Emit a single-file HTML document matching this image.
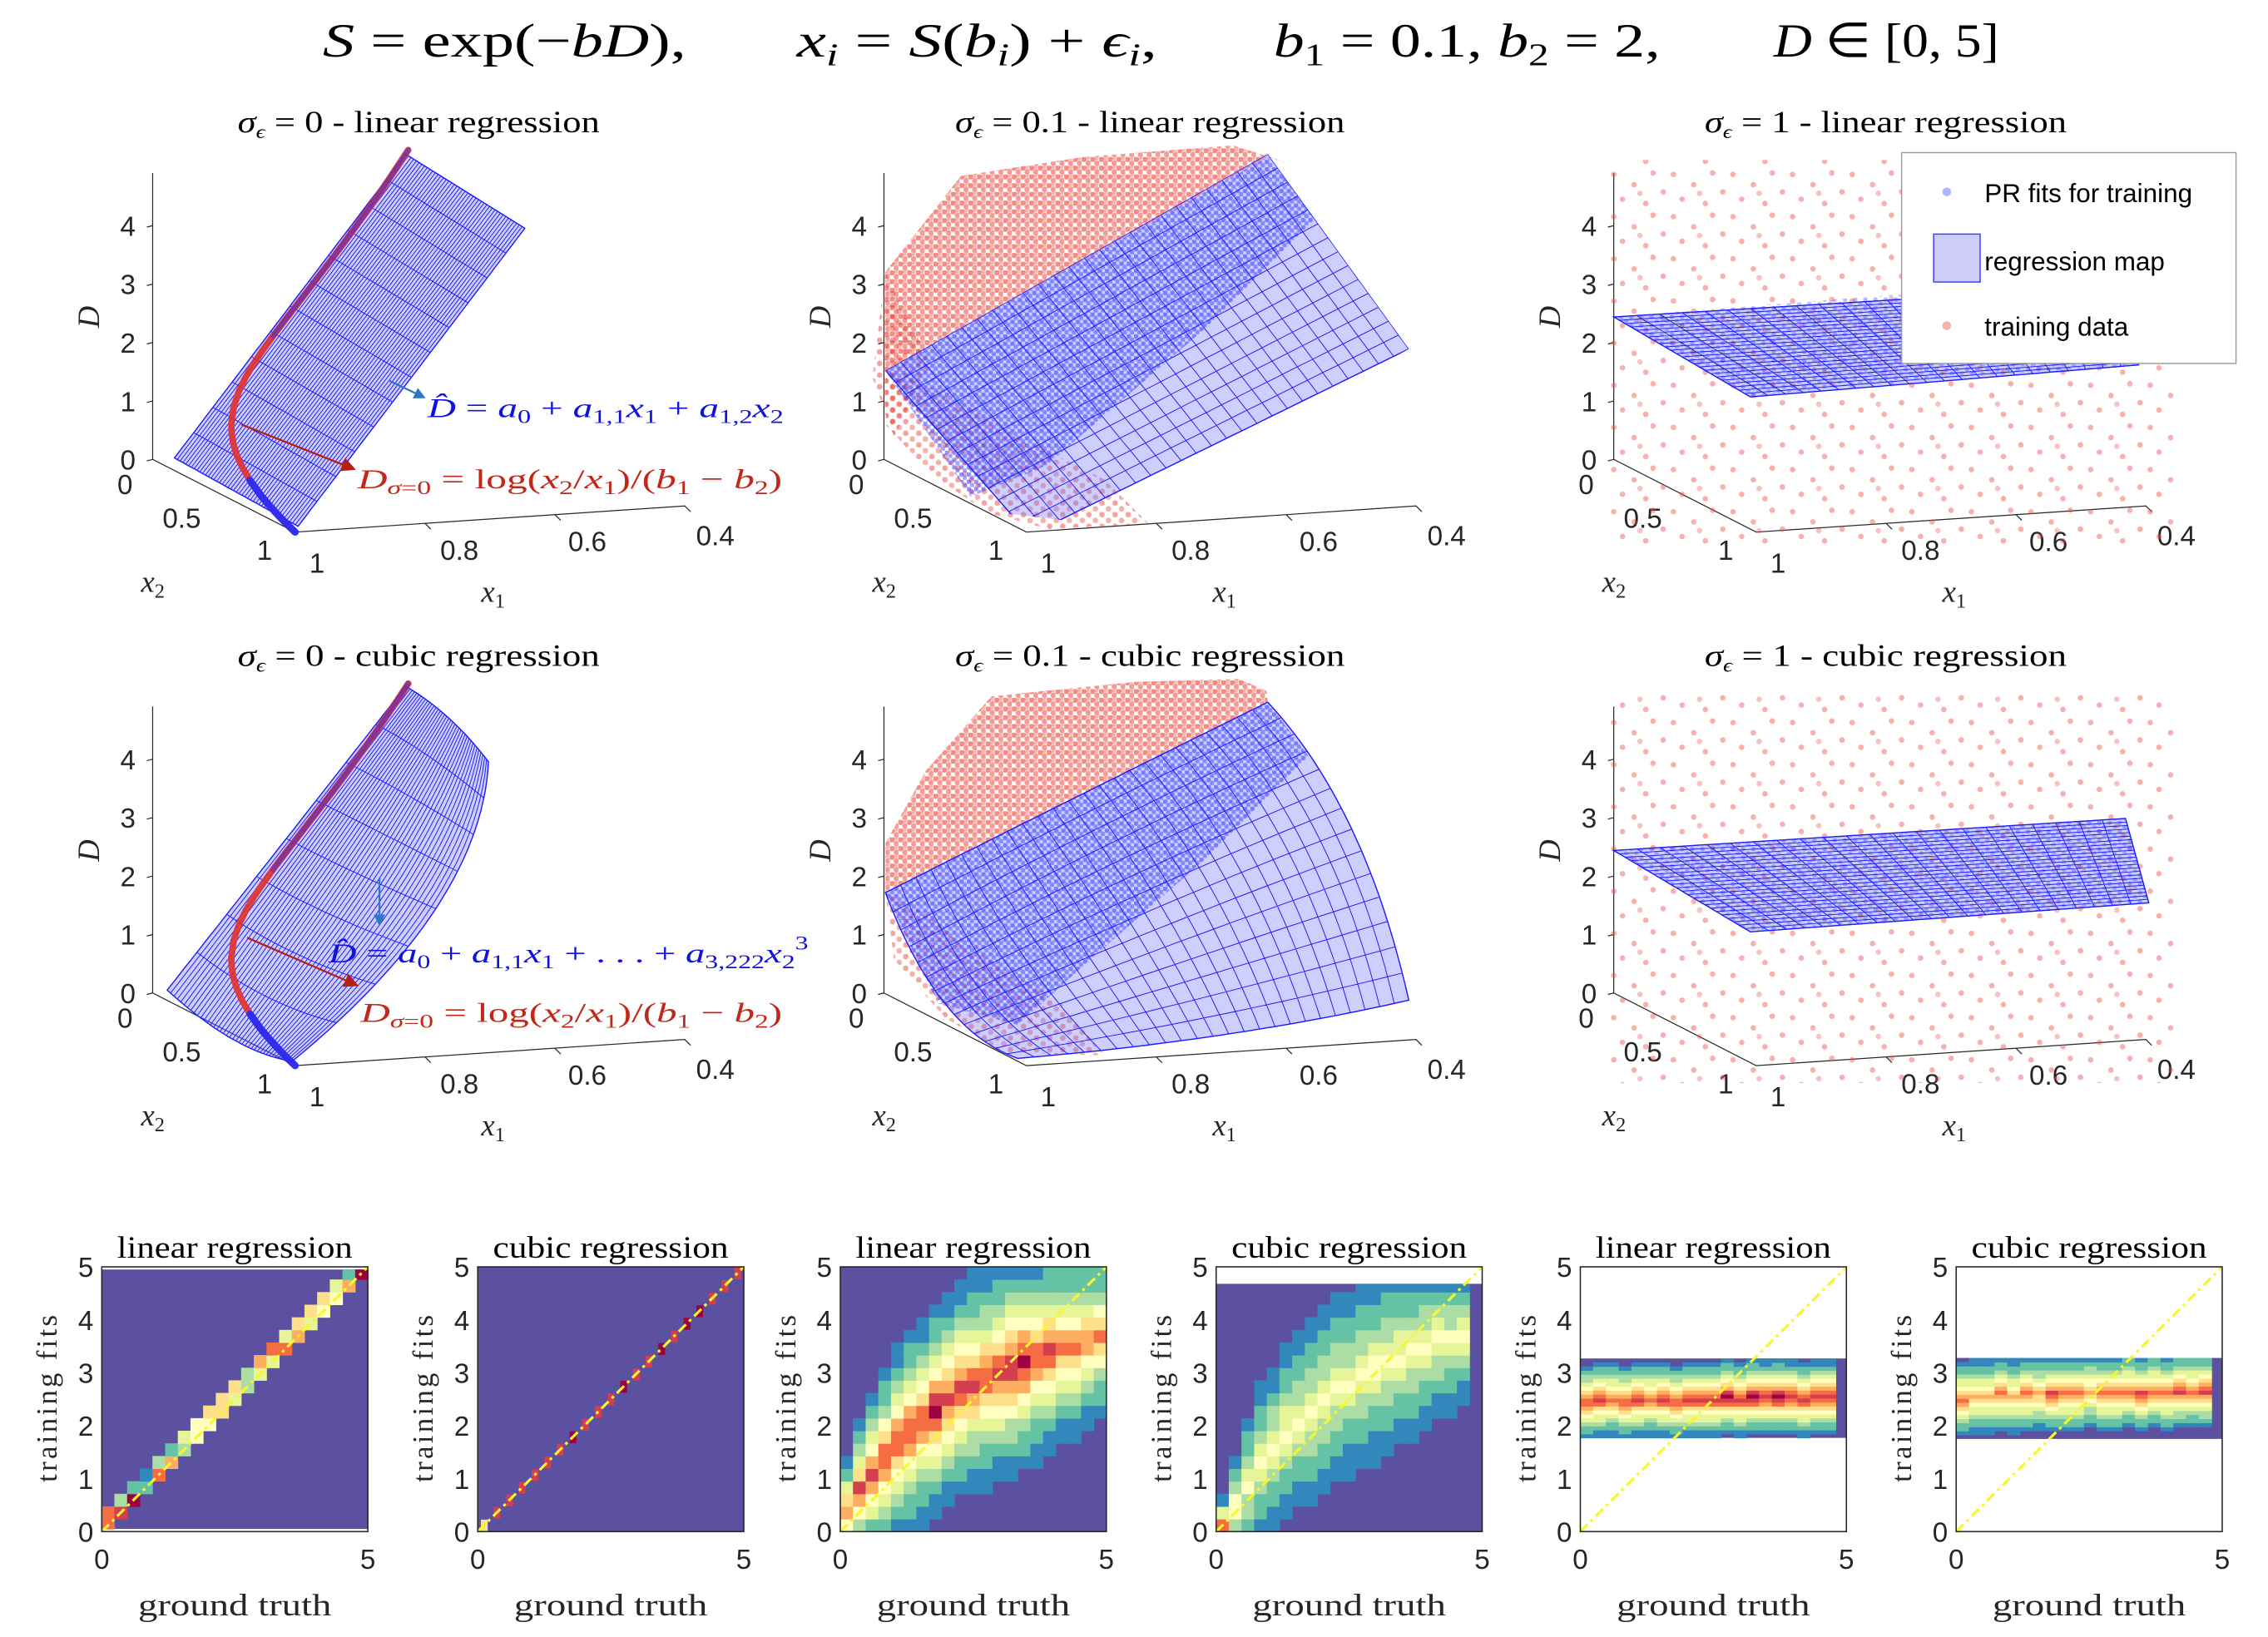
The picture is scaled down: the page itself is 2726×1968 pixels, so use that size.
<!DOCTYPE html>
<html><head><meta charset="utf-8"><title>Regression maps</title>
<style>
html,body{margin:0;padding:0;background:#fff;}
svg{display:block;}
.serif{font-family:"Liberation Serif",serif;}
.sans{font-family:"Liberation Sans",sans-serif;}
</style></head>
<body>
<svg id="fig" xmlns="http://www.w3.org/2000/svg" width="2726" height="1968" viewBox="0 0 1560 1126" preserveAspectRatio="none">
<defs>
<pattern id="redDense" width="6" height="6" patternUnits="userSpaceOnUse">
<circle cx="1.5" cy="1.5" r="2" fill="rgba(232,45,35,0.55)"/><circle cx="4.6" cy="4.3" r="2" fill="rgba(232,45,35,0.48)"/><circle cx="4.5" cy="1" r="1.2" fill="rgba(232,45,35,0.35)"/></pattern>
<pattern id="redMed" width="9" height="8" patternUnits="userSpaceOnUse">
<circle cx="2" cy="2" r="1.9" fill="rgba(232,50,40,0.45)"/><circle cx="6.5" cy="6" r="1.9" fill="rgba(232,50,40,0.38)"/></pattern>
<pattern id="redSparse" width="41" height="29" patternUnits="userSpaceOnUse">
<circle cx="3" cy="4" r="1.9" fill="rgba(235,80,75,0.45)"/><circle cx="17" cy="11" r="1.9" fill="rgba(235,80,75,0.45)"/><circle cx="30" cy="3" r="1.9" fill="rgba(235,80,75,0.45)"/><circle cx="9" cy="21" r="1.9" fill="rgba(235,80,75,0.45)"/><circle cx="25" cy="24" r="1.9" fill="rgba(235,80,75,0.45)"/><circle cx="37" cy="16" r="1.9" fill="rgba(235,80,75,0.45)"/><circle cx="21" cy="17" r="1.9" fill="rgba(235,80,75,0.35)"/></pattern>
<pattern id="blueDense" width="5" height="5" patternUnits="userSpaceOnUse">
<circle cx="1.3" cy="1.3" r="1.7" fill="rgba(30,40,255,0.5)"/><circle cx="3.8" cy="3.7" r="1.7" fill="rgba(30,40,255,0.42)"/></pattern>
<pattern id="blueMed" width="7" height="6" patternUnits="userSpaceOnUse">
<circle cx="2" cy="2" r="1.6" fill="rgba(60,70,255,0.38)"/><circle cx="5.5" cy="5" r="1.6" fill="rgba(60,70,255,0.32)"/></pattern>
<marker id="arrB" markerWidth="8" markerHeight="8" refX="6" refY="4" orient="auto" markerUnits="userSpaceOnUse"><path d="M0,0 L8,4 L0,8 z" fill="#2f78c4"/></marker>
<marker id="arrR" markerWidth="10" markerHeight="10" refX="7" refY="5" orient="auto" markerUnits="userSpaceOnUse"><path d="M0,0 L10,5 L0,10 z" fill="#b5200f"/></marker>
</defs>

<g class="serif" font-size="33" fill="#000">
<text x="222" y="39" textLength="250" lengthAdjust="spacingAndGlyphs"><tspan font-style="italic">S</tspan> = exp(−<tspan font-style="italic">bD</tspan>),</text>
<text x="548" y="39" textLength="248" lengthAdjust="spacingAndGlyphs"><tspan font-style="italic">x</tspan><tspan font-size="22" dy="6" font-style="italic">i</tspan><tspan dy="-6"> = </tspan><tspan font-style="italic">S</tspan>(<tspan font-style="italic">b</tspan><tspan font-size="22" dy="6" font-style="italic">i</tspan><tspan dy="-6">) + </tspan><tspan font-style="italic">ϵ</tspan><tspan font-size="22" dy="6" font-style="italic">i</tspan><tspan dy="-6">,</tspan></text>
<text x="876" y="39" textLength="266" lengthAdjust="spacingAndGlyphs"><tspan font-style="italic">b</tspan><tspan font-size="22" dy="6">1</tspan><tspan dy="-6"> = 0.1, </tspan><tspan font-style="italic">b</tspan><tspan font-size="22" dy="6">2</tspan><tspan dy="-6"> = 2,</tspan></text>
<text x="1220" y="39" textLength="155" lengthAdjust="spacingAndGlyphs"><tspan font-style="italic">D</tspan> ∈ [0, 5]</text>
</g>

<g id="panels3d"></g>
<g id="heatmaps"></g>

<g id="legend" class="sans">
<rect x="1308" y="105" width="230" height="145" fill="#fff" stroke="#9a9a9a" stroke-width="0.8"/>
<circle cx="1339" cy="132" r="3" fill="rgba(80,90,255,0.45)"/>
<text x="1365" y="139" font-size="18" fill="#000">PR fits for training</text>
<rect x="1330" y="161" width="32" height="33" fill="#cdcdf7" stroke="#3434ff" stroke-width="0.8"/>
<text x="1365" y="186" font-size="18" fill="#000">regression map</text>
<circle cx="1339" cy="224" r="3" fill="rgba(235,80,75,0.45)"/>
<text x="1365" y="231" font-size="18" fill="#000">training data</text>
</g>
</svg>

<script>
const b1 = 0.1, b2 = 2;
const curveD = [0,0.05,0.1,0.15,0.2,0.3,0.4,0.5,0.6,0.7,0.8,1,1.2,1.4,1.6,1.8,2,2.25,2.5,2.75,3,3.25,3.5,3.75,4,4.25,4.5,4.75,5];
const dTicks = [0,1,2,3,4];
const x2Ticks = ['0','0.5','1'];
const x1Ticks = ['1','0.8','0.6','0.4'];
const panelTitles3d = [['0','linear'],['0.1','linear'],['1','linear'],['0','cubic'],['0.1','cubic'],['1','cubic']];

const heatTitles = ['linear regression','cubic regression','linear regression','cubic regression','linear regression','cubic regression'];
const heatYLo = [0.05,0,0,0,1.77,1.75];
const heatYHi = [4.95,5,5,4.68,3.27,3.28];
const h1Lower = [8,9,10,2,8,7,3,5,5,6,4,3,4,4,8,7,4,5,5,7,10];
const h1Upper = [8,3,2,1,3,2,4,5,6,6,6,3,7,8,4,6,6,6,4,2,0];
const h2Vals = [6,9,9,9,9,9,9,10,9,9,9,10,9,9,10,9,10,10,9,9,9];
const h3Center = [0.4,0.8,1.1,1.4,1.7,1.9,2.1,2.3,2.5,2.7,2.8,2.9,3.0,3.1,3.2,3.3,3.4,3.5,3.5,3.6,3.7];
const h3Spread = [1.0,1.3,1.6,1.8,1.9,2.0,2.0,2.1,2.1,2.1,2.1,2.1,2.1,2.1,2.1,2.0,2.0,1.9,1.8,1.7,1.6];
const h3Peak = [8,9,9,9,9,9,9,10,9,9,9,9,9,10,10,9,9,8,8,8,8];
const h4Center = [0.1,0.5,0.9,1.3,1.6,1.9,2.1,2.3,2.5,2.7,2.8,3.0,3.1,3.2,3.3,3.4,3.5,3.6,3.6,3.7,3.8];
const h4Spread = [0.6,1.0,1.3,1.5,1.6,1.7,1.7,1.8,1.8,1.8,1.8,1.8,1.8,1.8,1.7,1.7,1.6,1.5,1.4,1.3,1.2];
const h4Peak = [8,6,5,5,5,5,5,5,5,5,5,5,5,5,5,5,5,5,5,5,0];
const h5Center = [2.45,2.5,2.5,2.45,2.5,2.5,2.5,2.45,2.5,2.5,2.5,2.55,2.5,2.55,2.55,2.55,2.55,2.5,2.55,2.55];
const h5Peak = [9,9,8,9,9,8,9,9,9,9,9,10,9,10,9,10,9,9,9,9];
const h6Center = [2.5,2.55,2.55,2.6,2.55,2.6,2.6,2.6,2.6,2.6,2.65,2.6,2.6,2.65,2.6,2.65,2.6,2.65,2.65,2.65];
const h6Peak = [8,7,7,8,7,8,7,9,8,8,7,8,8,8,9,8,8,9,8,9];
const h56Spread = [0.7,0.7];
const xTicksH = [0,5];
const yTicksH = [0,1,2,3,4,5];

const CMAP = ['#5b51a0','#3288bd','#66c2a5','#abdda4','#e6f598','#ffffbf','#fee08b','#fdae61','#f46d43','#d53e4f','#9e0142'];
const NS = 'http://www.w3.org/2000/svg';
function mk(tag, parent, attrs){const e=document.createElementNS(NS,tag);for(const k in attrs)e.setAttribute(k,attrs[k]);parent.appendChild(e);return e;}

const g3 = document.getElementById('panels3d');
const origins = [[105,316],[608,316],[1110,316],[105,683],[608,683],[1110,683]];
function proj(o,x1,x2,D){return [o[0]+(1-x1)*446.7+x2*98, o[1]-(1-x1)*30+x2*50-D*40.2];}

function qb(t){return [(1-t)*(1-t),2*t*(1-t),t*t];}
function patchPt(c,u,v){const bu=qb(u),bv=qb(v);let x=0,y=0;for(let i=0;i<3;i++)for(let j=0;j<3;j++){x+=bu[i]*bv[j]*c[i][j][0];y+=bu[i]*bv[j]*c[i][j][1];}return [x,y];}
function mid(a,b){return [(a[0]+b[0])/2,(a[1]+b[1])/2];}
function bilin(P00,P10,P01,P11){const m0=mid(P00,P01),m1=mid(P10,P11);return [[P00,m0,P01],[mid(P00,P10),mid(m0,m1),mid(P01,P11)],[P10,m1,P11]];}
function outline(c){const pts=[],n=30;for(let k=0;k<=n;k++)pts.push(patchPt(c,k/n,0));for(let k=0;k<=n;k++)pts.push(patchPt(c,1,k/n));for(let k=n;k>=0;k--)pts.push(patchPt(c,k/n,1));for(let k=n;k>=0;k--)pts.push(patchPt(c,0,k/n));return pts.map(p=>p[0].toFixed(1)+','+p[1].toFixed(1)).join(' ');}

const surfaces = [
  {c:bilin([120,315],[279,106],[205,362],[361,157]), nFixV:44, nFixU:12},
  {c:bilin([609,255],[872,106],[708,368],[969,240]), nFixV:14, nFixU:25, clip:'609,255 872,106 969,240 758,361 674,351'},
  {c:bilin([1110,218],[1455,197],[1204,273],[1471,251]), nFixV:24, nFixU:22},
  {c:[[[115,681],[162,724],[201,730]],[[197,577],[240,590],[331,623]],[[279,472],[310,490],[336,524]]], nFixV:40, nFixU:8},
  {c:[[[609,614],[645,709],[700,728]],[[740,548],[800,610],[845,716]],[[872,483],[939,555],[969,688]]], nFixV:14, nFixU:25},
  {c:bilin([1110,585],[1462,563],[1204,641],[1478,621]), nFixV:24, nFixU:22}
];
const redClouds = [
  [],
  [{pts:'609,187 661,121 745,108 848,100 886,112 872,108 609,255',f:'redDense'},{pts:'609,255 609,292 640,326 680,353 722,364 790,360 760,330 700,300 650,270',f:'redMed'},{pts:'609,187 600,260 615,300 640,250',f:'redMed'}],
  [{pts:'1105,110 1495,110 1495,378 1105,378',f:'redSparse'}],
  [],
  [{pts:'609,580 637,530 682,479 781,469 852,467 871,475 872,483 609,614',f:'redDense'},{pts:'609,614 615,660 650,700 690,724 760,726 730,690 680,660 640,630',f:'redMed'}],
  [{pts:'1105,478 1495,478 1495,745 1105,745',f:'redSparse'}]
];
const blueClouds = [
  [],
  [{pts:'609,255 872,108 905,150 830,225 720,320 660,345 609,290',f:'blueDense'}],
  [{pts:'1110,218 1300,203 1300,262 1204,273',f:'blueMed'},{pts:'1300,203 1455,197 1471,251 1300,262',f:'blueMed'}],
  [],
  [{pts:'609,614 872,483 900,520 830,590 750,660 700,705 645,690',f:'blueDense'}],
  [{pts:'1110,585 1462,563 1478,621 1204,641',f:'blueMed'}]
];

panelTitles3d.forEach((t,p)=>{
  const o = origins[p];
  const pg = mk('g', g3, {});
  
  
  const cx = [288,791,1297][p%3], ty = p<3 ? 91 : 458;
  const tt = mk('text', pg, {x:cx, y:ty, 'text-anchor':'middle', 'font-size':21, class:'serif', fill:'#000', textLength:(p%3===1?268:249), lengthAdjust:'spacingAndGlyphs'});
  
  
  tt.innerHTML = '<tspan font-style="italic">σ</tspan><tspan font-size="13" dy="4" font-style="italic">ϵ</tspan><tspan dy="-4"> = '+t[0]+' - '+t[1]+' regression</tspan>';
  const ax = mk('path', pg, {d:`M${o[0]},${o[1]-197} L${o[0]},${o[1]} L${o[0]+98},${o[1]+50} L${o[0]+366},${o[1]+32} l4,4`, fill:'none', stroke:'#262626', 'stroke-width':0.7});
  
  
  dTicks.forEach(d=>{
    const y = o[1]-d*40.2;
    const tk = mk('line', pg, {x1:o[0]-4, y1:y+1, x2:o[0], y2:y, stroke:'#262626', 'stroke-width':0.7});
    
    
    const tl = mk('text', pg, {x:o[0]-17, y:y+7, 'text-anchor':'middle', 'font-size':19, class:'sans', fill:'#262626'});
    
    
    tl.textContent = d;
  });
  const x2pos = [[-19,24],[20,47],[77,69]];
  x2Ticks.forEach((s,i)=>{
    const tl = mk('text', pg, {x:o[0]+x2pos[i][0], y:o[1]+x2pos[i][1], 'text-anchor':'middle', 'font-size':19, class:'sans', fill:'#262626'});
    
    
    tl.textContent = s;
  });
  const x1pos = [[113,78],[211,69],[299,63],[387,59]];
  x1Ticks.forEach((s,i)=>{
    const tl = mk('text', pg, {x:o[0]+x1pos[i][0], y:o[1]+x1pos[i][1], 'text-anchor':'middle', 'font-size':19, class:'sans', fill:'#262626'});
    
    
    tl.textContent = s;
  });
  [[0.8,-0.2],[0.6,0]].forEach(q=>{
    const a = proj(o,q[0],1,0);
    const tk = mk('line', pg, {x1:a[0], y1:a[1], x2:a[0]+4, y2:a[1]+4, stroke:'#262626', 'stroke-width':0.7});
    
    
  });
  const dl = mk('text', pg, {x:0, y:0, transform:`translate(${o[0]-37},${o[1]-98}) rotate(-90)`, 'text-anchor':'middle', 'font-size':21, class:'serif', 'font-style':'italic', fill:'#262626'});
  
  
  dl.textContent = 'D';
  const x2l = mk('text', pg, {x:o[0]-8, y:o[1]+91, 'font-size':21, class:'serif', fill:'#262626'});
  
  
  x2l.innerHTML = '<tspan font-style="italic">x</tspan><tspan font-size="14" dy="4">2</tspan>';
  const x1l = mk('text', pg, {x:o[0]+226, y:o[1]+98, 'font-size':21, class:'serif', fill:'#262626'});
  
  
  x1l.innerHTML = '<tspan font-style="italic">x</tspan><tspan font-size="14" dy="4">1</tspan>';

  redClouds[p].forEach(rc=>{
    const e = mk('polygon', pg, {points:rc.pts, fill:`url(#${rc.f})`});
    
    
  });
  const s = surfaces[p];
  const sg = mk('g', pg, {});
  
  
  if (s.clip){
    const cp = mk('clipPath', pg, {id:'clip'+p});
    mk('polygon', cp, {points:s.clip});
    sg.setAttribute('clip-path', `url(#clip${p})`);
  }
  const fillE = mk('polygon', sg, {points:outline(s.c), fill:'rgba(120,120,255,0.36)', stroke:'#2020ff', 'stroke-width':0.8});
  
  
  blueClouds[p].forEach(bc=>{
    const e = mk('polygon', sg, {points:bc.pts, fill:`url(#${bc.f})`});
    
    
  });
  let dpath='';
  for(let k=0;k<=s.nFixV;k++){const v=k/s.nFixV;for(let m=0;m<=20;m++){const q=patchPt(s.c,m/20,v);dpath+=(m?'L':'M')+q[0].toFixed(1)+','+q[1].toFixed(1);}}
  for(let k=0;k<=s.nFixU;k++){const u=k/s.nFixU;for(let m=0;m<=20;m++){const q=patchPt(s.c,u,m/20);dpath+=(m?'L':'M')+q[0].toFixed(1)+','+q[1].toFixed(1);}}
  const mesh = mk('path', sg, {d:dpath, fill:'none', stroke:'#1a1aff', 'stroke-width':0.55});
  
  

  if (p%3===0){
    const pts = curveD.map(D=>proj(o, Math.exp(-b1*D), Math.exp(-b2*D), D));
    const dd = pts.map((q,i)=>(i?'L':'M')+q[0].toFixed(1)+','+q[1].toFixed(1)).join('');
    const rc = mk('path', pg, {d:dd, fill:'none', stroke:'#e0322a', 'stroke-width':4.5, 'stroke-linecap':'round', opacity:0.9});
    
    
    const lowPts = pts.filter((q,i)=>curveD[i]<=0.35);
    const hiPts = pts.filter((q,i)=>curveD[i]>=1.9);
    [[lowPts,0.9,5],[hiPts,0.45,3.5]].forEach(sp=>{
      const d2 = sp[0].map((q,i)=>(i?'L':'M')+q[0].toFixed(1)+','+q[1].toFixed(1)).join('');
      const bc = mk('path', pg, {d:d2, fill:'none', stroke:'#1f2cff', 'stroke-width':sp[2], 'stroke-linecap':'round', opacity:sp[1]});
      
      
    });
  }
});

const ann = mk('g', g3, {});


const a1 = mk('line', ann, {x1:268, y1:262, x2:291, y2:273, stroke:'#2f78c4', 'stroke-width':1.3, 'marker-end':'url(#arrB)'});


const a2 = mk('line', ann, {x1:166, y1:292, x2:242, y2:322, stroke:'#b5200f', 'stroke-width':1.3, 'marker-end':'url(#arrR)'});


const a3 = mk('line', ann, {x1:261, y1:604, x2:261, y2:635, stroke:'#2f78c4', 'stroke-width':1.3, 'marker-end':'url(#arrB)'});


const a4 = mk('line', ann, {x1:170, y1:645, x2:244, y2:677, stroke:'#b5200f', 'stroke-width':1.3, 'marker-end':'url(#arrR)'});


const t1 = mk('text', ann, {x:294, y:287, 'font-size':19, class:'serif', fill:'#1010e0', textLength:245, lengthAdjust:'spacingAndGlyphs'});


t1.innerHTML = '<tspan font-style="italic">D̂</tspan> = <tspan font-style="italic">a</tspan><tspan font-size="13" dy="4">0</tspan><tspan dy="-4"> + </tspan><tspan font-style="italic">a</tspan><tspan font-size="13" dy="4">1,1</tspan><tspan dy="-4" font-style="italic">x</tspan><tspan font-size="13" dy="4">1</tspan><tspan dy="-4"> + </tspan><tspan font-style="italic">a</tspan><tspan font-size="13" dy="4">1,2</tspan><tspan dy="-4" font-style="italic">x</tspan><tspan font-size="13" dy="4">2</tspan>';
const t2 = mk('text', ann, {x:246, y:336, 'font-size':19, class:'serif', fill:'#c0281a', textLength:292, lengthAdjust:'spacingAndGlyphs'});


t2.innerHTML = '<tspan font-style="italic">D</tspan><tspan font-size="13" dy="4" font-style="italic">σ</tspan><tspan font-size="13">=0</tspan><tspan dy="-4"> = log(</tspan><tspan font-style="italic">x</tspan><tspan font-size="13" dy="4">2</tspan><tspan dy="-4">/</tspan><tspan font-style="italic">x</tspan><tspan font-size="13" dy="4">1</tspan><tspan dy="-4">)/(</tspan><tspan font-style="italic">b</tspan><tspan font-size="13" dy="4">1</tspan><tspan dy="-4"> − </tspan><tspan font-style="italic">b</tspan><tspan font-size="13" dy="4">2</tspan><tspan dy="-4">)</tspan>';
const t3 = mk('text', ann, {x:226, y:662, 'font-size':19, class:'serif', fill:'#1010e0', textLength:330, lengthAdjust:'spacingAndGlyphs'});


t3.innerHTML = '<tspan font-style="italic">D̂</tspan> = <tspan font-style="italic">a</tspan><tspan font-size="13" dy="4">0</tspan><tspan dy="-4"> + </tspan><tspan font-style="italic">a</tspan><tspan font-size="13" dy="4">1,1</tspan><tspan dy="-4" font-style="italic">x</tspan><tspan font-size="13" dy="4">1</tspan><tspan dy="-4"> + . . . + </tspan><tspan font-style="italic">a</tspan><tspan font-size="13" dy="4">3,222</tspan><tspan dy="-4" font-style="italic">x</tspan><tspan font-size="13" dy="4">2</tspan><tspan font-size="13" dy="-13">3</tspan>';
const t4 = mk('text', ann, {x:248, y:703, 'font-size':19, class:'serif', fill:'#c0281a', textLength:290, lengthAdjust:'spacingAndGlyphs'});


t4.innerHTML = t2.innerHTML;

const gh = document.getElementById('heatmaps');
const HL = [70,328.6,578,836.5,1087,1345.5], HW = 183, HT = 871.4, HB = 1053.5;
function bandVal(v,c,s,p,ex){const d=Math.abs(v-c)/s;if(d>=1||p<=0)return 0;return Math.max(1,Math.round(1+(p-1)*Math.pow(1-d,ex)));}

heatTitles.forEach((title,p)=>{
  const L = HL[p];
  const sx = v=>L+v/5*HW, sy = v=>HB-v/5*(HB-HT);
  const pg = mk('g', gh, {});
  
  
  const lo = heatYLo[p], hi = heatYHi[p];
  const bg = mk('rect', pg, {x:L, y:sy(hi), width:HW, height:sy(lo)-sy(hi), fill:CMAP[0]});
  
  
  const cells = [];
  if (p===0){
    const bw=5/21;
    h1Lower.forEach((v,i)=>{cells.push([i*bw,(i+1)*bw,i*bw,(i+1)*bw,v]);cells.push([i*bw,(i+1)*bw,(i+1)*bw,(i+2)*bw,h1Upper[i]]);});
  } else if (p===1){
    const bw=5/21;
    h2Vals.forEach((v,i)=>{cells.push([i*bw+bw*0.25,(i+1)*bw-bw*0.25,i*bw+bw*0.05,(i+1)*bw-bw*0.05,v]);});
  } else if (p===2 || p===3){
    const cen = p===2?h3Center:h4Center, spr = p===2?h3Spread:h4Spread, pk = p===2?h3Peak:h4Peak;
    const bw=5/21;
    cen.forEach((c,i)=>{for(let r=0;r<21;r++){const y0=r*bw,y1=(r+1)*bw;const v=bandVal((y0+y1)/2,c,spr[i],pk[i],1.8);cells.push([i*bw,(i+1)*bw,y0,y1,v]);}});
  } else {
    const cen = p===4?h5Center:h6Center, pk = p===4?h5Peak:h6Peak, s = h56Spread[p-4];
    const bw=4.8/20, nr=20, rh=(hi-lo)/nr;
    cen.forEach((c,i)=>{for(let r=0;r<nr;r++){const y0=lo+r*rh,y1=y0+rh;const v=bandVal((y0+y1)/2,c,s,pk[i],1.4);cells.push([i*bw,(i+1)*bw,y0,y1,v]);}});
  }
  cells.forEach(cl=>{
    if (cl[4]<=0) return;
    const y0=Math.max(cl[2],lo), y1=Math.min(cl[3],hi);
    if (y1<=y0) return;
    const r = mk('rect', pg, {x:sx(cl[0]).toFixed(2), y:sy(y1).toFixed(2), width:(sx(cl[1])-sx(cl[0])+0.3).toFixed(2), height:(sy(y0)-sy(y1)+0.3).toFixed(2), fill:CMAP[Math.min(10,cl[4])]});
    
    
  });
  const diag = mk('line', pg, {x1:sx(0), y1:sy(0), x2:sx(5), y2:sy(5), stroke:'#f7f72a', 'stroke-width':1.8, 'stroke-dasharray':'7 3 2 3'});
  
  
  const fr = mk('rect', pg, {x:L, y:HT, width:HW, height:HB-HT, fill:'none', stroke:'#262626', 'stroke-width':0.9});
  
  
  yTicksH.forEach(v=>{
    const tl = mk('text', pg, {x:L-11, y:sy(v)+7, 'text-anchor':'middle', 'font-size':19, class:'sans', fill:'#262626'});
    
    
    tl.textContent = v;
  });
  xTicksH.forEach(v=>{
    const tl = mk('text', pg, {x:sx(v), y:1079, 'text-anchor':'middle', 'font-size':19, class:'sans', fill:'#262626'});
    
    
    tl.textContent = v;
  });
  const tt = mk('text', pg, {x:L+HW/2, y:865, 'text-anchor':'middle', 'font-size':21, class:'serif', fill:'#000', textLength:162, lengthAdjust:'spacingAndGlyphs'});
  
  
  tt.textContent = title;
  const xl = mk('text', pg, {x:L+HW/2, y:1111, 'text-anchor':'middle', 'font-size':21, class:'serif', fill:'#262626', textLength:133, lengthAdjust:'spacingAndGlyphs'});
  
  
  xl.textContent = 'ground truth';
  const yl = mk('text', pg, {x:0, y:0, transform:`translate(${L-31},962) rotate(-90)`, 'text-anchor':'middle', 'font-size':20, class:'serif', fill:'#262626', textLength:115, lengthAdjust:'spacing'});
  
  
  yl.textContent = 'training fits';
});
document.getElementById('fig').appendChild(document.getElementById('legend'));
</script>
</body></html>
